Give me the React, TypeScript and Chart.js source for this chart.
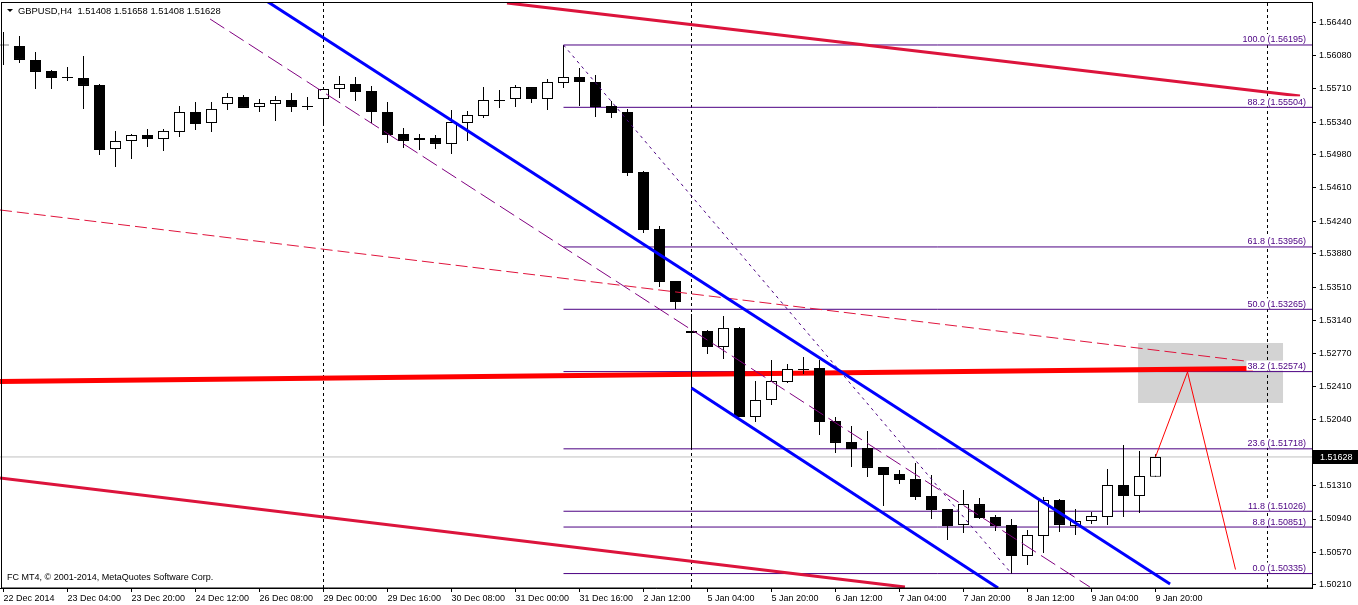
import React, { useEffect, useRef } from 'react';
import { Chart, registerables } from 'chart.js';

Chart.register(...registerables);

// ---- data ----
const timeLabels = [
  '22 Dec 2014', '23 Dec 04:00', '23 Dec 20:00', '24 Dec 12:00', '26 Dec 08:00',
  '29 Dec 00:00', '29 Dec 16:00', '30 Dec 08:00', '31 Dec 00:00', '31 Dec 16:00',
  '2 Jan 12:00', '5 Jan 04:00', '5 Jan 20:00', '6 Jan 12:00', '7 Jan 04:00',
  '7 Jan 20:00', '8 Jan 12:00', '9 Jan 04:00', '9 Jan 20:00',
];
const timeLabelBars = [0, 4, 8, 12, 16, 20, 24, 28, 32, 36, 40, 44, 48, 52, 56, 60, 64, 68, 72];

const opens = [
  1.56195, 1.56184, 1.56029, 1.55907, 1.55840, 1.55829, 1.55752, 1.55042, 1.55131, 1.55197,
  1.55153, 1.55231, 1.55452, 1.55330, 1.55541, 1.55619, 1.55508, 1.55541, 1.55585, 1.55519,
  1.55596, 1.55707, 1.55763, 1.55685, 1.55452, 1.55208, 1.55142, 1.55164, 1.55098, 1.55330,
  1.55408, 1.55574, 1.55596, 1.55729, 1.55596, 1.55774, 1.55840, 1.55785, 1.55519, 1.55452,
  1.54787, 1.54155, 1.53579, 1.53002, 1.53024, 1.52847, 1.53058, 1.52071, 1.52259, 1.52459,
  1.52592, 1.52614, 1.52027, 1.51794, 1.51727, 1.51517, 1.51439, 1.51384, 1.51195, 1.51051,
  1.50874, 1.51106, 1.50962, 1.50874, 1.50530, 1.50752, 1.51151, 1.50862, 1.50918, 1.50962,
  1.51317, 1.51195, 1.51408,
];
const highs = [
  1.56339, 1.56295, 1.56118, 1.55918, 1.55951, 1.56073, 1.55763, 1.55242, 1.55208, 1.55264,
  1.55264, 1.55519, 1.55563, 1.55563, 1.55663, 1.55641, 1.55596, 1.55630, 1.55663, 1.55619,
  1.55729, 1.55851, 1.55840, 1.55741, 1.55563, 1.55275, 1.55208, 1.55197, 1.55474, 1.55463,
  1.55729, 1.55696, 1.55752, 1.55729, 1.55818, 1.56195, 1.55940, 1.55862, 1.55574, 1.55486,
  1.54798, 1.54188, 1.53579, 1.53213, 1.53035, 1.53191, 1.53069, 1.52470, 1.52703, 1.52658,
  1.52736, 1.52703, 1.52071, 1.51971, 1.51916, 1.51517, 1.51483, 1.51561, 1.51428, 1.51051,
  1.51262, 1.51173, 1.50984, 1.50940, 1.50818, 1.51184, 1.51162, 1.51051, 1.51018, 1.51494,
  1.51761, 1.51694, 1.51658,
];
const lows = [
  1.55973, 1.55996, 1.55707, 1.55707, 1.55796, 1.55486, 1.54976, 1.54843, 1.54931, 1.55064,
  1.55020, 1.55175, 1.55253, 1.55231, 1.55474, 1.55497, 1.55452, 1.55353, 1.55452, 1.55474,
  1.55330, 1.55608, 1.55574, 1.55330, 1.55109, 1.55053, 1.55031, 1.55042, 1.54987, 1.55131,
  1.55386, 1.55497, 1.55508, 1.55552, 1.55474, 1.55718, 1.55519, 1.55397, 1.55386, 1.54743,
  1.54111, 1.53512, 1.53268, 1.51716, 1.52769, 1.52714, 1.52071, 1.52015, 1.52204, 1.52448,
  1.52548, 1.51871, 1.51672, 1.51517, 1.51406, 1.51084, 1.51328, 1.51151, 1.50940, 1.50707,
  1.50785, 1.50940, 1.50807, 1.50335, 1.50430, 1.50563, 1.50796, 1.50763, 1.50885, 1.50874,
  1.50962, 1.51007, 1.51408,
];
const closes = [
  1.56190, 1.56029, 1.55896, 1.55829, 1.55829, 1.55741, 1.55031, 1.55131, 1.55197, 1.55153,
  1.55242, 1.55452, 1.55319, 1.55486, 1.55619, 1.55497, 1.55552, 1.55585, 1.55508, 1.55508,
  1.55707, 1.55763, 1.55674, 1.55452, 1.55197, 1.55131, 1.55164, 1.55098, 1.55341, 1.55419,
  1.55585, 1.55585, 1.55729, 1.55596, 1.55785, 1.55840, 1.55785, 1.55508, 1.55441, 1.54776,
  1.54144, 1.53568, 1.53346, 1.53024, 1.52847, 1.53058, 1.52071, 1.52259, 1.52470, 1.52603,
  1.52603, 1.52015, 1.51783, 1.51716, 1.51506, 1.51428, 1.51372, 1.51184, 1.51040, 1.50862,
  1.51106, 1.50951, 1.50862, 1.50530, 1.50763, 1.51151, 1.50874, 1.50918, 1.50973, 1.51317,
  1.51195, 1.51417, 1.51628,
];

const priceTicks = [
  1.56440, 1.56080, 1.55710, 1.55340, 1.54980, 1.54610, 1.54240, 1.53880, 1.53510,
  1.53140, 1.52770, 1.52410, 1.52040, 1.51670, 1.51310, 1.50940, 1.50570, 1.50210,
];

const fibRatios = ['100.0', '88.2', '61.8', '50.0', '38.2', '23.6', '11.8', '8.8', '0.0'];
const fibPrices = [1.56195, 1.55504, 1.53956, 1.53265, 1.52574, 1.51718, 1.51026, 1.50851, 1.50335];
const fibStartBar = 35;

const separatorBars = [20, 43, 79];
const currentPrice = 1.51628;
const lastBar = { open: 1.51408, high: 1.51658, low: 1.51408, close: 1.51628 };

const redUpperChannel = [{ x: 31.47, y: 1.56661 }, { x: 81.03, y: 1.5563 }];
const redLowerChannel = [{ x: -0.22, y: 1.51395 }, { x: 56.34, y: 1.50186 }];
const redSupport = [{ x: -0.22, y: 1.52464 }, { x: 78.09, y: 1.52609 }];
const blueUpper = [{ x: 16.34, y: 1.56694 }, { x: 72.91, y: 1.50219 }];
const blueLower = [{ x: 43, y: 1.52392 }, { x: 62.16, y: 1.50175 }];
const purpleDashed = [{ x: 12.91, y: 1.56483 }, { x: 67.9, y: 1.50186 }];
const fibTrend = [{ x: 35, y: 1.56195 }, { x: 63, y: 1.50335 }];
const redDashed = [{ x: -0.22, y: 1.54366 }, { x: 78.09, y: 1.52681 }];
const projection = [{ x: 72, y: 1.51628 }, { x: 74, y: 1.5257 }, { x: 77, y: 1.5038 }];
const zoneBars = [70.91, 79.97];
const zonePrices = [1.52891, 1.52226];

const xRange = [-0.21875, 81.78125];
const yRange = [1.501751, 1.566606];

const FONT = "'Liberation Sans', Arial, sans-serif";

export default function App() {
  const ref = useRef<HTMLCanvasElement>(null);

  useEffect(() => {
    if (!ref.current) return;
    const idx = opens.map((_, i) => i);
    const bodies = idx.map((i) => ({ x: i, y: [opens[i], closes[i]] }));
    const wicks = idx.map((i) => ({ x: i, y: [lows[i], highs[i]] }));
    const bodyColors = idx.map((i) => (closes[i] >= opens[i] ? '#FFFFFF' : '#000000'));

    const line = (data: any[], color: string, width: number, order: number, dash: number[] = []) => ({
      type: 'line' as const,
      data,
      borderColor: color,
      borderWidth: width,
      borderDash: dash,
      pointRadius: 0,
      pointHoverRadius: 0,
      fill: false,
      tension: 0,
      order,
      borderCapStyle: 'butt' as const,
    });

    const fibLines = fibPrices.map((p) =>
      line([{ x: fibStartBar, y: p }, { x: xRange[1], y: p }], '#4B0082', 1, 40)
    );
    const separators = separatorBars.map((b) =>
      line([{ x: b, y: yRange[0] }, { x: b, y: yRange[1] }], '#000000', 1, 45, [3, 3])
    );

    const overlay = {
      id: 'overlay',
      beforeDatasetsDraw(chart: any) {
        const { ctx, scales } = chart;
        const xs = scales.x, ys = scales.y;
        const x0 = xs.getPixelForValue(zoneBars[0]);
        const x1 = xs.getPixelForValue(zoneBars[1]);
        const y0 = ys.getPixelForValue(zonePrices[0]);
        const y1 = ys.getPixelForValue(zonePrices[1]);
        ctx.save();
        ctx.fillStyle = '#D3D3D3';
        ctx.fillRect(x0, y0, x1 - x0, y1 - y0);
        ctx.restore();
      },
      afterDatasetsDraw(chart: any) {
        const { ctx, scales, chartArea } = chart;
        const ys = scales.y;
        ctx.save();
        ctx.font = `9px ${FONT}`;
        ctx.textAlign = 'right';
        ctx.textBaseline = 'bottom';
        const xr = chartArea.right - 6;
        fibPrices.forEach((p, i) => {
          const py = ys.getPixelForValue(p);
          const txt = `${fibRatios[i]} (${p.toFixed(5)})`;
          const w = ctx.measureText(txt).width;
          ctx.fillStyle = '#FFFFFF';
          ctx.fillRect(xr - w - 1, py - 11, w + 2, 10);
          ctx.fillStyle = '#4B0082';
          ctx.fillText(txt, xr, py - 0.5);
        });
        ctx.restore();
      },
      afterDraw(chart: any) {
        const { ctx, scales, chartArea } = chart;
        const ys = scales.y;
        ctx.save();
        // frame
        ctx.strokeStyle = '#000000';
        ctx.lineWidth = 1;
        ctx.strokeRect(chartArea.left + 1.5, chartArea.top - 0.5, chartArea.right - chartArea.left - 1, chartArea.bottom - chartArea.top + 0.5);
        // title
        ctx.fillStyle = '#000000';
        ctx.beginPath();
        ctx.moveTo(7, 9);
        ctx.lineTo(13, 9);
        ctx.lineTo(10, 12);
        ctx.closePath();
        ctx.fill();
        ctx.font = `9.4px ${FONT}`;
        ctx.textAlign = 'left';
        ctx.textBaseline = 'middle';
        ctx.fillText(
          `GBPUSD,H4  ${lastBar.open.toFixed(5)} ${lastBar.high.toFixed(5)} ${lastBar.low.toFixed(5)} ${lastBar.close.toFixed(5)}`,
          18, 11
        );
        ctx.font = `9px ${FONT}`;
        ctx.fillText('FC MT4, \u00A9 2001-2014, MetaQuotes Software Corp.', 7, 578);
        // current price box
        const py = Math.round(ys.getPixelForValue(currentPrice));
        ctx.fillStyle = '#000000';
        ctx.fillRect(chartArea.right + 1, py - 7, 1358 - chartArea.right - 1, 14);
        ctx.fillStyle = '#FFFFFF';
        ctx.fillText(currentPrice.toFixed(5), chartArea.right + 8, py + 0.5);
        ctx.restore();
      },
    };

    const chart = new Chart(ref.current, {
      type: 'bar',
      data: {
        datasets: [
          line(redUpperChannel, '#DC143C', 3, 0),
          line(redLowerChannel, '#DC143C', 3, 0),
          line(blueUpper, '#0000FF', 3, 1),
          line(blueLower, '#0000FF', 3, 1),
          line(purpleDashed, '#800080', 1, 2, [17, 6]),
          line(fibTrend, '#4B0082', 1, 2, [3, 4]),
          line(redDashed, '#E0143C', 1, 2, [12, 5]),
          line(projection, '#FF0000', 1, 2),
          {
            type: 'bar' as const,
            data: bodies as any,
            backgroundColor: bodyColors,
            borderColor: '#000000',
            borderWidth: 1,
            borderSkipped: false,
            barThickness: 11,
            minBarLength: 1,
            grouped: false,
            inflateAmount: 0,
            order: 10,
          },
          {
            type: 'bar' as const,
            data: wicks as any,
            backgroundColor: '#000000',
            borderWidth: 0,
            barThickness: 1,
            grouped: false,
            inflateAmount: 0,
            order: 11,
          },
          line(redSupport, '#FF0000', 5, 20),
          ...fibLines,
          ...separators,
          line([{ x: xRange[0], y: currentPrice }, { x: xRange[1], y: currentPrice }], '#C0C0C0', 1, 50),
        ] as any,
      },
      options: {
        animation: false,
        responsive: false,
        devicePixelRatio: 1,
        layout: { padding: { top: 3, left: 0, right: 0, bottom: 0 } },
        plugins: { legend: { display: false }, tooltip: { enabled: false } },
        events: [],
        scales: {
          x: {
            type: 'linear',
            min: xRange[0],
            max: xRange[1],
            offset: false,
            grid: { display: true, drawOnChartArea: false, drawTicks: true, tickLength: 4, color: '#000000', offset: false },
            border: { display: true, color: '#000000' },
            ticks: {
              color: '#000000',
              font: { family: FONT, size: 9 },
              align: 'start',
              maxRotation: 0,
              minRotation: 0,
              autoSkip: false,
              padding: 1,
              callback: (_v: any, i: number) => timeLabels[i],
            },
            afterBuildTicks: (s: any) => {
              s.ticks = timeLabelBars.map((v) => ({ value: v }));
            },
            afterFit: (s: any) => {
              s.height = 17;
              s.paddingLeft = 0;
              s.paddingRight = 0;
            },
          },
          y: {
            type: 'linear',
            position: 'right',
            min: yRange[0],
            max: yRange[1],
            beginAtZero: false,
            grid: { display: true, drawOnChartArea: false, drawTicks: true, tickLength: 4, color: '#000000' },
            border: { display: true, color: '#000000' },
            ticks: {
              color: '#000000',
              font: { family: FONT, size: 9 },
              padding: 3,
              crossAlign: 'near',
              autoSkip: false,
              callback: (v: any) => Number(v).toFixed(5),
            },
            afterBuildTicks: (s: any) => {
              s.ticks = priceTicks.map((v) => ({ value: v }));
            },
            afterFit: (s: any) => {
              s.width = 46;
              s.paddingTop = 0;
              s.paddingBottom = 0;
            },
          },
        },
      } as any,
      plugins: [overlay],
    });

    return () => chart.destroy();
  }, []);

  return (
    <div style={{ position: 'absolute', left: 0, top: 0, width: 1358, height: 605, background: '#FFFFFF' }}>
      <canvas ref={ref} width={1358} height={605} style={{ display: 'block' }} />
    </div>
  );
}
